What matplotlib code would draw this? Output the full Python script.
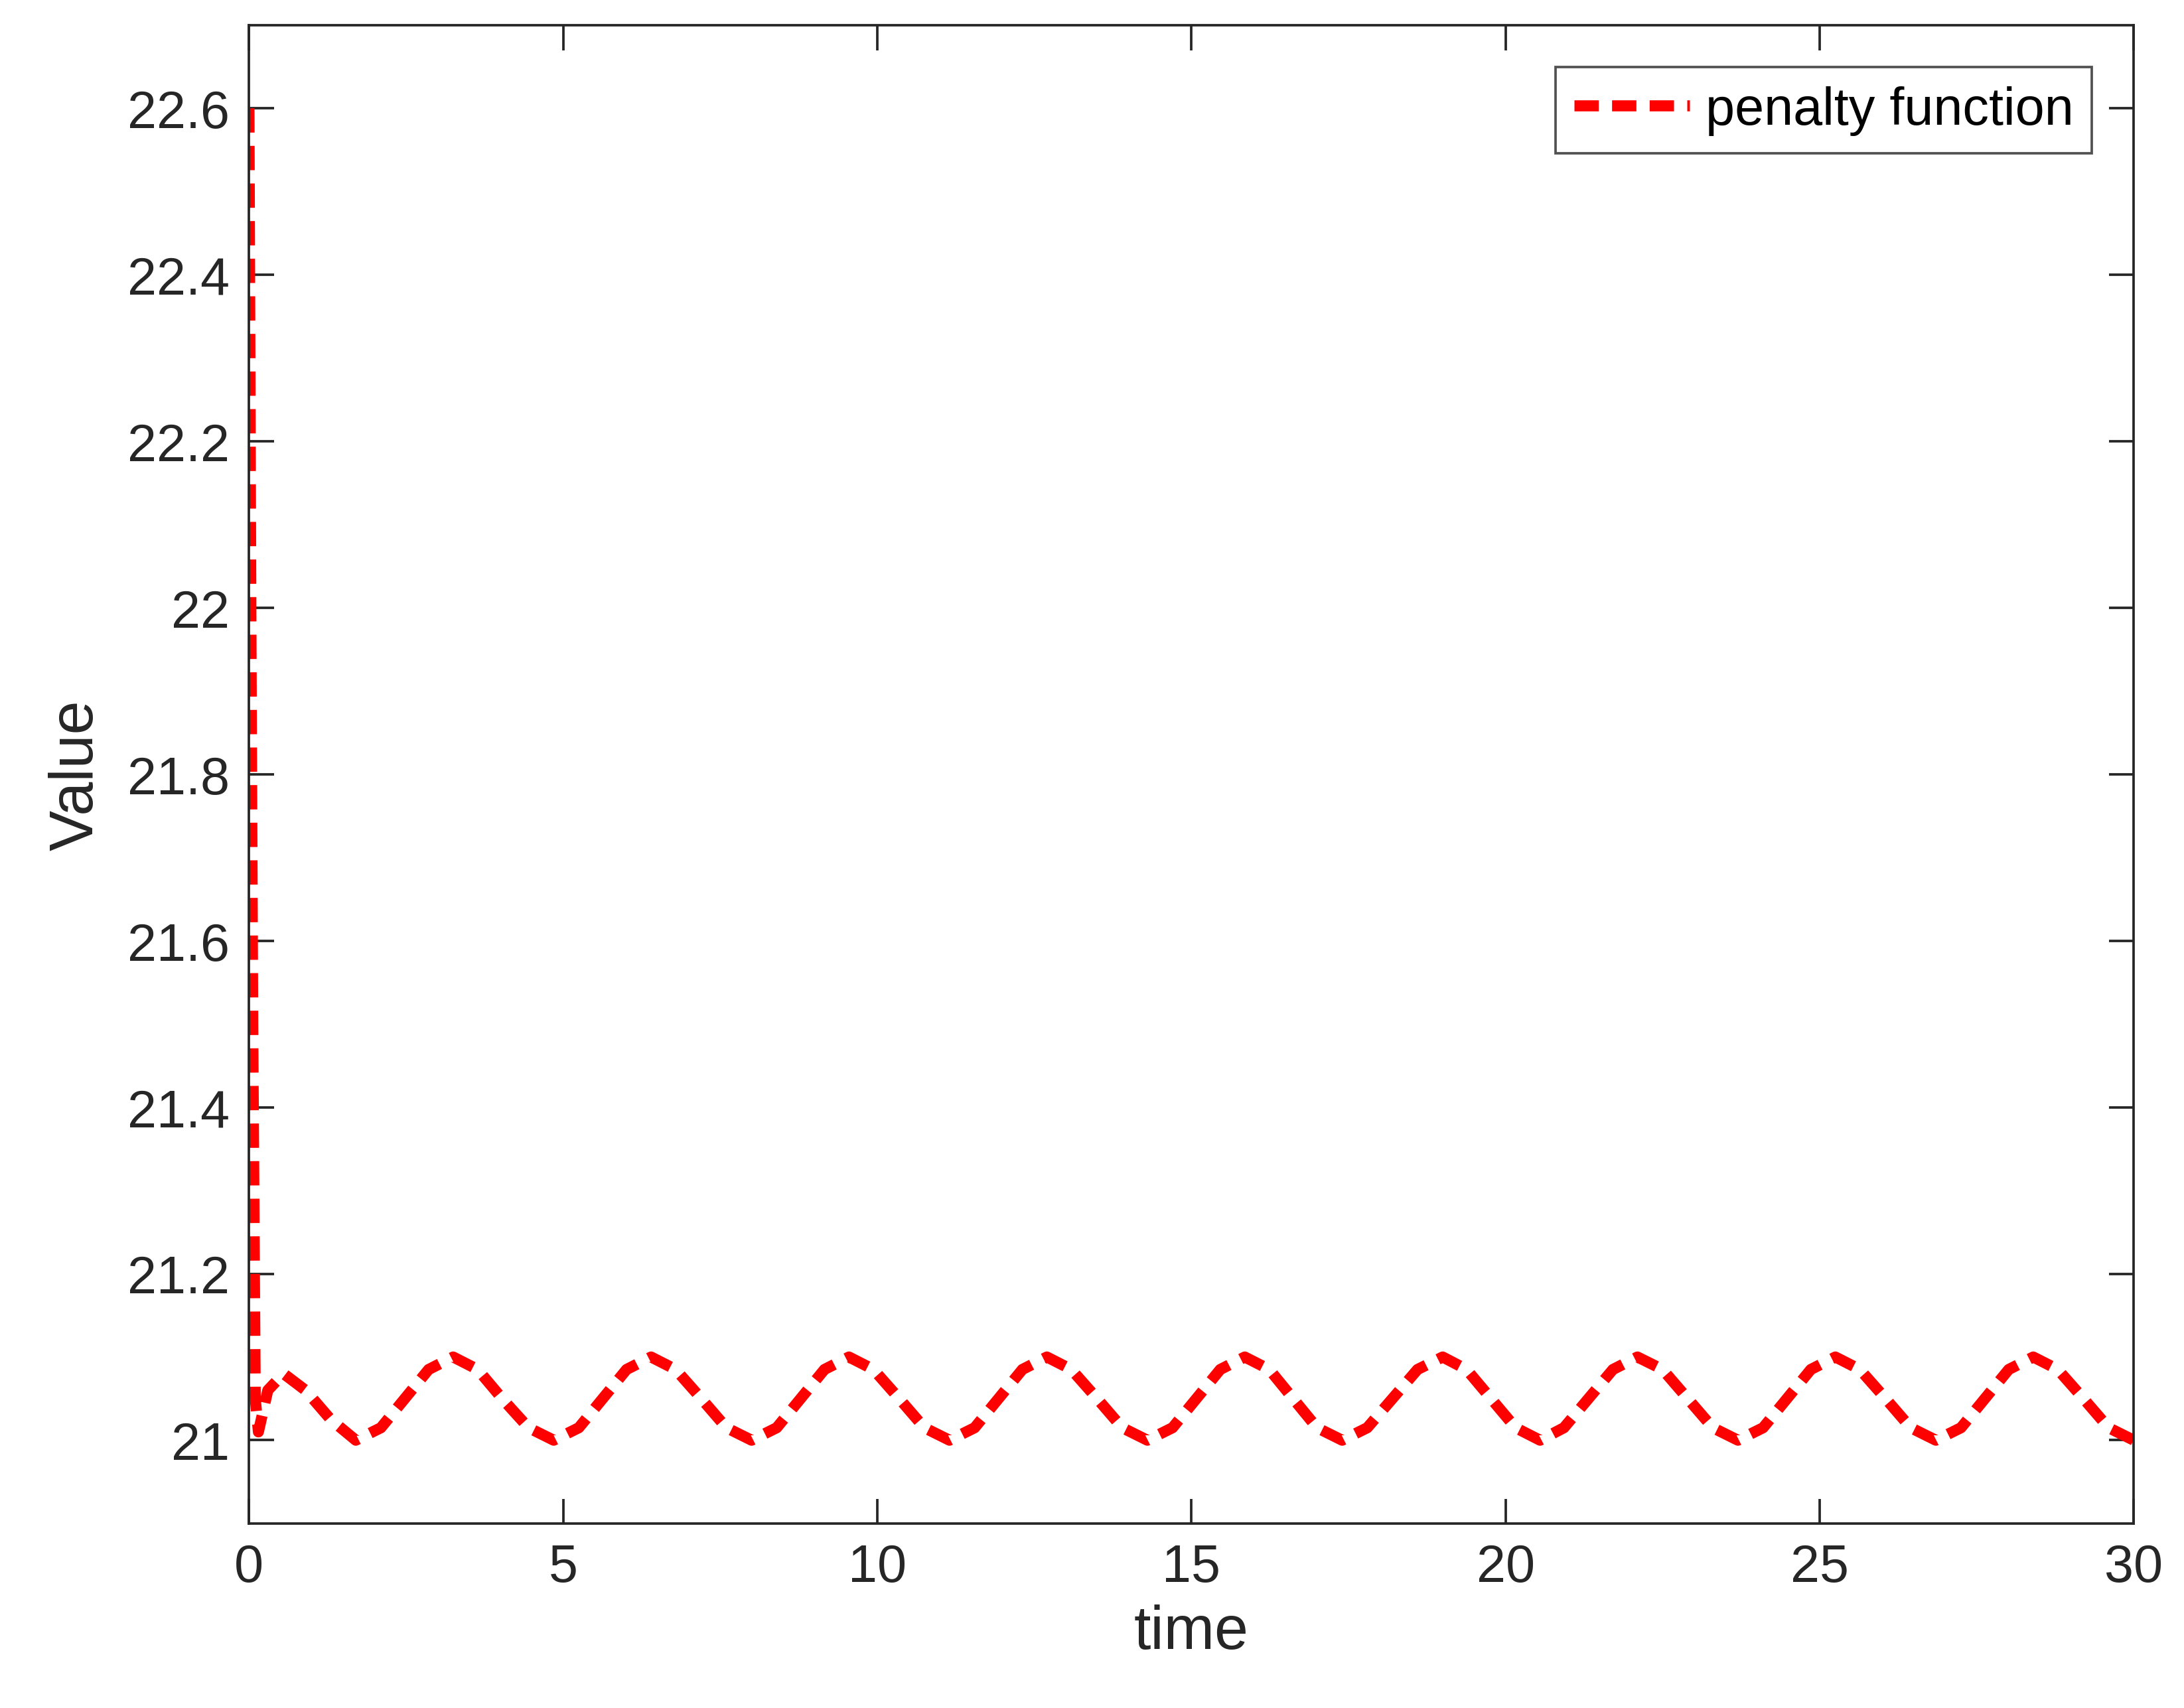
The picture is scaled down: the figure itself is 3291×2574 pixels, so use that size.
import matplotlib.pyplot as plt

plt.rcParams['font.family'] = ['Liberation Sans', 'DejaVu Sans']

# values
time = [0.0, 0.03, 0.06, 0.1, 0.15, 0.3, 0.55, 0.9, 1.3,
        1.7, 2.1, 2.48, 2.86, 3.25, 3.64, 4.03, 4.45,
        4.85, 5.25, 5.63, 6.01, 6.4, 6.79, 7.2, 7.6,
        8.0, 8.4, 8.78, 9.16, 9.55, 9.94, 10.35, 10.75,
        11.15, 11.55, 11.93, 12.31, 12.7, 13.09, 13.5, 13.9,
        14.3, 14.7, 15.08, 15.46, 15.85, 16.24, 16.62, 17.0,
        17.4, 17.8, 18.2, 18.6, 19.0, 19.38, 19.77, 20.16,
        20.55, 20.93, 21.32, 21.71, 22.1, 22.5, 22.9, 23.3,
        23.7, 24.1, 24.48, 24.86, 25.25, 25.64, 26.05, 26.45,
        26.85, 27.25, 27.63, 28.01, 28.4, 28.79, 29.2, 29.6,
        30.0]
penalty = [22.6, 22.0, 21.5, 21.05, 21.01, 21.06, 21.08, 21.06, 21.025,
           21.0, 21.015, 21.05, 21.085, 21.1, 21.085, 21.05, 21.015,
           21.0, 21.015, 21.05, 21.085, 21.1, 21.085, 21.05, 21.015,
           21.0, 21.015, 21.05, 21.085, 21.1, 21.085, 21.05, 21.015,
           21.0, 21.015, 21.05, 21.085, 21.1, 21.085, 21.05, 21.015,
           21.0, 21.015, 21.05, 21.085, 21.1, 21.085, 21.05, 21.015,
           21.0, 21.015, 21.05, 21.085, 21.1, 21.085, 21.05, 21.015,
           21.0, 21.015, 21.05, 21.085, 21.1, 21.085, 21.05, 21.015,
           21.0, 21.015, 21.05, 21.085, 21.1, 21.085, 21.05, 21.015,
           21.0, 21.015, 21.05, 21.085, 21.1, 21.085, 21.05, 21.015,
           21.0]

yticks = [21.0, 21.2, 21.4, 21.6, 21.8, 22.0, 22.2, 22.4, 22.6]
ytick_labels = ['21', '21.2', '21.4', '21.6', '21.8', '22', '22.2', '22.4', '22.6']

fig = plt.figure(figsize=(10.97, 8.583), dpi=300)
ax = fig.add_axes([0.114, 0.108, 0.863, 0.877])

ax.plot(time, penalty, color='red', linestyle='--', linewidth=4,
        dashes=(2.2, 1.2), label='penalty function')

ax.set_xlim(0, 30)
ax.set_ylim(20.9, 22.7)
ax.set_xticks([0, 5, 10, 15, 20, 25, 30])
ax.set_yticks(yticks)
ax.set_yticklabels(ytick_labels)
ax.tick_params(direction='in', top=True, right=True, labelsize=19,
               length=9, width=0.9, colors='#262626', labelcolor='#262626', pad=7)
for s in ax.spines.values():
    s.set_color('#262626')
    s.set_linewidth(0.9)

ax.set_xlabel('time', fontsize=22, color='#262626', labelpad=4)
ax.set_ylabel('Value', fontsize=22, color='#262626', labelpad=8)

leg = ax.legend(loc='upper right', fontsize=19, fancybox=False,
                edgecolor='#262626', handlelength=2.2, handletextpad=0.3,
                borderaxespad=0.8, borderpad=0.35)
leg.get_frame().set_linewidth(0.9)

fig.savefig('out.png', dpi=300)
